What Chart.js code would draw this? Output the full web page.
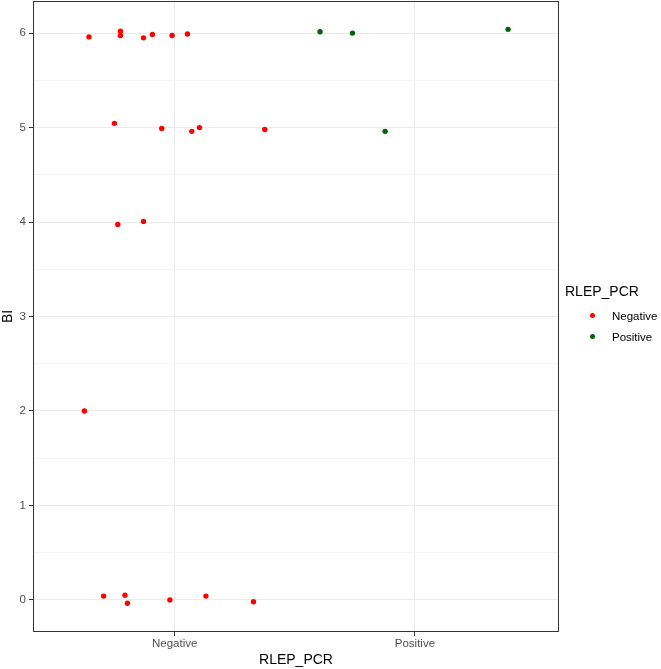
<!DOCTYPE html>
<html>
<head>
<meta charset="utf-8">
<script src="https://cdn.jsdelivr.net/npm/chart.js@4.4.1/dist/chart.umd.min.js"></script>
<style>
    body { margin: 0; background: #fff; font-family: "Liberation Sans", Arial, sans-serif; overflow: hidden; }
    #wrap { position: relative; width: 661px; height: 669px; overflow: hidden; }
    #chart { position: absolute; left: 0; top: -3px; }
    #legend { position: absolute; left: 565px; top: 283px; color: #000; }
    #legend .title { font-size: 14px; margin-bottom: 6px; }
    #legend .item { display: flex; align-items: center; height: 21px; font-size: 11.5px; }
    #legend .dot { width: 5px; height: 5px; border-radius: 50%; margin-left: 25px; margin-right: 17px; }
</style>
</head>
<body>
<div id="wrap">
    <canvas id="chart" width="661" height="672"></canvas>
    <div id="legend"></div>
</div>
<script>
// Categories on the x axis and the y tick labels
const categories = ['Negative', 'Positive'];
const yTicks = [0, 1, 2, 3, 4, 5, 6];

// Jittered points (x: 1 = Negative, 2 = Positive)
const negX = [0.643, 0.774, 0.774, 0.870, 0.907, 0.989, 1.053,
              0.749, 0.946, 1.071, 1.103, 1.375,
              0.763, 0.870,
              0.624,
              0.704, 0.793, 0.803, 0.980, 1.130, 1.328];
const negY = [5.96, 6.02, 5.975, 5.95, 5.985, 5.975, 5.99,
              5.045, 4.99, 4.96, 5.0, 4.98,
              3.975, 4.007,
              2.0,
              0.04, 0.05, -0.035, 0.0, 0.04, -0.02];
const posX = [1.605, 1.740, 1.876, 2.388];
const posY = [6.015, 6.0, 4.96, 6.04];

const colors = { Negative: '#ff0000', Positive: '#006400' };

const toPoints = (xs, ys) => xs.map((x, i) => ({ x: x, y: ys[i] }));

// Panel border like theme_bw
const panelBorder = {
    id: 'panelBorder',
    afterDraw(chart) {
        const { ctx, chartArea: a } = chart;
        ctx.save();
        ctx.strokeStyle = '#333333';
        ctx.lineWidth = 1;
        ctx.strokeRect(a.left + 0.5, a.top + 0.5, a.right - a.left - 1, a.bottom - a.top - 1);
        ctx.restore();
    }
};

const tickFont = { family: 'Liberation Sans', size: 11.5 };
const titleFont = { family: 'Liberation Sans', size: 14, lineHeight: 1 };

// drop the label overflow padding so the panel fills its box
const noEdgePadding = scale => {
    scale.paddingTop = 0;
    scale.paddingBottom = 0;
    scale.paddingLeft = 0;
    scale.paddingRight = 0;
};

new Chart(document.getElementById('chart'), {
    type: 'scatter',
    data: {
        datasets: [
            { label: 'Negative', data: toPoints(negX, negY), backgroundColor: colors.Negative, pointRadius: 2.7, borderWidth: 0 },
            { label: 'Positive', data: toPoints(posX, posY), backgroundColor: colors.Positive, pointRadius: 2.7, borderWidth: 0 }
        ]
    },
    options: {
        responsive: false,
        animation: false,
        layout: { padding: { left: 0, top: 0, right: 102, bottom: 0 } },
        plugins: { legend: { display: false }, tooltip: { enabled: false } },
        scales: {
            x: {
                type: 'linear',
                min: 0.41,
                max: 2.6,
                afterBuildTicks: scale => { scale.ticks = categories.map((c, i) => ({ value: i + 1 })); },
                afterFit: scale => { scale.height = 37; noEdgePadding(scale); },
                border: { display: false },
                grid: { color: '#ebebeb', lineWidth: 1, tickColor: '#333333', tickLength: 4 },
                ticks: {
                    color: '#4d4d4d',
                    font: tickFont,
                    padding: 1,
                    maxRotation: 0,
                    callback: v => categories[Math.round(v) - 1]
                },
                title: { display: true, text: 'RLEP_PCR', color: '#000', font: titleFont, padding: { top: 0, bottom: 2 } }
            },
            y: {
                min: -0.34,
                max: 6.34,
                afterBuildTicks: scale => {
                    const t = [];
                    yTicks.forEach((v, i) => {
                        t.push({ value: v });
                        if (i < yTicks.length - 1) t.push({ value: (v + yTicks[i + 1]) / 2 });
                    });
                    scale.ticks = t;
                },
                afterFit: scale => { scale.width = 33; noEdgePadding(scale); },
                border: { display: false },
                grid: {
                    color: ctx => Number.isInteger(ctx.tick.value) ? '#ebebeb' : '#f4f4f4',
                    lineWidth: 1,
                    tickColor: ctx => Number.isInteger(ctx.tick.value) ? '#333333' : 'rgba(0,0,0,0)',
                    tickLength: 4
                },
                ticks: {
                    color: '#4d4d4d',
                    font: tickFont,
                    padding: 3,
                    callback: v => Number.isInteger(v) ? String(v) : ''
                },
                title: { display: true, text: 'BI', color: '#000', font: titleFont, padding: { top: 1, bottom: 0 } }
            }
        }
    },
    plugins: [panelBorder]
});

// Legend on the right
const legend = document.getElementById('legend');
legend.innerHTML = '<div class="title">RLEP_PCR</div>' + categories.map(c =>
    `<div class="item"><span class="dot" style="background:${colors[c]}"></span><span>${c}</span></div>`
).join('');
</script>
</body>
</html>
